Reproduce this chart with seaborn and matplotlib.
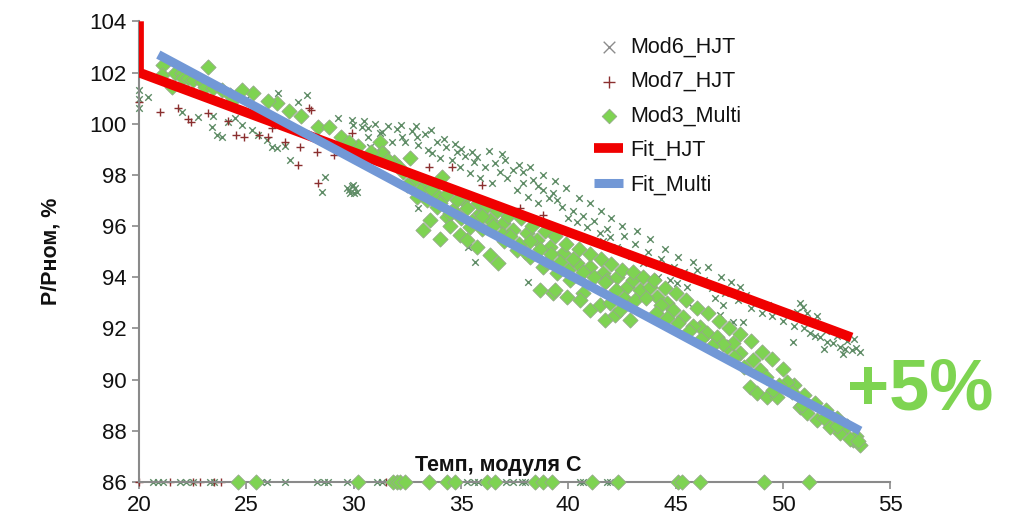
import numpy as np
import pandas as pd
import matplotlib
matplotlib.use("Agg")
import matplotlib.pyplot as plt
import seaborn as sns

# -------------------------------
# Data
# -------------------------------
mod6_x = [20.0, 20.0, 20.0, 20.42, 22.0, 22.75, 23.45, 23.4, 23.87, 23.63, 24.47, 24.15, 25.27, 25.17,
          24.8, 25.55, 25.96, 26.2, 26.43, 26.8, 27.04, 26.48, 27.41, 27.83, 28.67, 28.53, 29.27, 29.93,
          29.97, 30.39, 30.67, 30.67, 31.23, 30.76,
          29.7, 29.85, 30.05, 29.95, 29.8, 30.15, 29.9, 30.0,
          31.32, 32.26, 32.4, 32.95, 33.0, 33.47, 33.65, 34.03, 34.59, 34.96, 35.75, 36.59, 37.05, 35.42,
          35.89, 36.45, 37.15, 37.89, 38.36, 37.61, 38.13, 38.83, 39.29, 39.48, 38.59, 39.99, 40.41, 40.88,
          41.48, 41.95,
          33.0, 35.33, 35.66, 38.13,
          46.0, 45.54, 45.07, 45.58, 46.84, 47.21, 47.07, 47.68, 48.15, 48.0, 50.47, 50.8, 50.94, 50.66,
          51.13, 51.27, 51.73, 52.34, 52.67, 53.22, 52.06, 51.5,
          41.6, 42.3, 42.9, 44.18, 44.74, 43.49, 42.27,
          30.5, 31.0, 31.6, 32.0, 32.7, 33.3, 33.9, 34.3, 34.8, 35.2, 35.6, 36.1, 36.8, 37.4, 37.9, 38.6,
          39.1, 39.7, 40.2, 40.7, 41.2, 41.8, 42.6, 43.1, 43.7, 44.3, 44.9, 45.4, 46.3, 46.7, 47.3, 47.9,
          48.5, 49.0, 49.5, 50.0, 50.5, 51.0, 51.5, 52.0, 52.5, 53.0, 53.4, 52.8, 51.9,
          31.8, 32.2, 32.9, 33.6, 34.2, 34.7, 35.0, 35.5, 36.3, 36.9, 37.7, 38.2, 38.8, 39.4, 39.9, 40.5,
          41.0, 41.5, 42.0, 42.5, 43.2, 43.8, 44.5, 45.1, 45.8, 46.5, 47.1, 47.6, 48.3, 48.9, 49.3, 50.2,
          52.3, 52.9, 51.6, 53.6, 53.3,
          20.65, 20.9, 21.1, 21.9, 22.2, 22.5, 23.3, 23.5, 25.7, 25.96, 26.8, 28.3, 28.6, 28.8, 29.7, 31.1,
          31.3, 35.3, 35.6, 35.8, 37.1, 37.4, 37.85, 38.0, 40.55, 40.7, 41.8, 41.95]
mod6_y = [101.3, 100.95, 100.6, 101.03, 100.45, 100.25, 100.29, 99.86, 99.47, 99.55, 100.21, 100.05, 99.74, 101.11,
          99.94, 99.55, 99.35, 99.08, 99.04, 99.12, 98.57, 101.19, 100.84, 101.11, 97.91, 97.32, 100.21, 100.13,
          99.94, 99.86, 99.82, 99.47, 99.63, 99.08,
          97.5, 97.3, 97.5, 97.62, 97.42, 97.35, 97.55, 97.28,
          99.66, 99.47, 99.27, 99.47, 99.16, 98.96, 98.84, 98.65, 98.57, 98.3, 98.69, 98.45, 98.57, 98.06,
          97.87, 97.67, 97.87, 98.1, 97.79, 97.4, 97.13, 97.4, 97.28, 97.0, 96.89, 96.3, 96.15, 95.95,
          95.72, 95.56,
          96.7, 95.17, 94.59, 93.8,
          94.27, 93.61, 93.77, 92.98, 93.18, 92.91, 92.52, 92.24, 92.24, 93.61, 91.46, 93.0, 92.85, 92.65,
          92.6, 91.81, 91.66, 91.42, 91.27, 91.15, 91.46, 91.7,
          95.4, 95.1, 94.85, 94.0, 93.88, 94.55, 95.2,
          100.1, 100.0, 99.9, 99.8, 99.7, 99.6, 99.3, 99.1, 98.9, 98.75, 98.5, 98.3, 98.1, 98.2, 97.7, 97.55,
          97.1, 96.75, 96.6, 96.4, 96.2, 95.9, 95.6, 95.3, 95.0, 94.7, 94.4, 94.2, 93.9, 93.6, 93.4, 93.1,
          92.8, 92.6, 92.5, 92.3, 92.1, 92.0, 92.25, 91.9, 91.7, 91.5, 91.25, 91.0, 91.2,
          99.3, 99.95, 99.9, 99.75, 99.4, 99.2, 99.0, 98.9, 98.95, 98.8, 98.4, 98.3, 98.0, 97.75, 97.5, 97.1,
          96.9, 96.6, 96.3, 96.0, 95.8, 95.5, 95.1, 94.8, 94.6, 94.4, 94.0, 93.8, 93.3, 93.0, 92.9, 92.6,
          91.95, 91.2, 92.5, 91.1, 91.6,
          86, 86, 86, 86, 86, 86, 86, 86, 86, 86, 86, 86, 86, 86, 86, 86,
          86, 86, 86, 86, 86, 86, 86, 86, 86, 86, 86, 86]

mod7_x = [20.0, 21.0, 21.8, 22.3, 22.4, 23.2, 24.15, 24.5, 24.9, 25.6, 26.0, 26.8, 27.5, 28.3, 27.4, 28.35,
          27.9, 29.1, 29.93, 26.2, 28.0, 34.6, 37.75, 38.8, 32.6, 33.5, 31.0, 36.0,
          20.0, 21.45, 22.5, 22.85, 23.5, 23.8, 31.5]
mod7_y = [100.84, 100.45, 100.6, 100.2, 100.05, 100.4, 100.1, 99.55, 99.47, 99.55, 99.47, 99.27, 99.08, 98.88,
          98.38, 97.67, 100.6, 98.77, 99.63, 99.82, 100.52, 98.3, 96.7, 96.42, 97.8, 98.3, 98.9, 97.6,
          86, 86, 86, 86, 86, 86, 86]

mod3_x = [21.12, 21.07, 21.68, 22.0, 22.05, 22.28, 22.52, 22.94, 23.22, 23.08, 23.45, 23.87, 24.24, 24.38, 21.54,
          26.43, 27.55, 28.34, 28.85, 29.41, 30.21, 31.32,
          31.23, 31.32, 32.63, 34.12, 33.23, 34.03, 33.56, 34.35, 34.96, 35.42, 36.36, 36.73, 35.28, 35.75,
          32.95, 33.42, 33.89, 34.63, 35.1, 35.89, 36.36, 36.96, 37.43, 38.08, 38.55, 39.15, 39.76, 40.41,
          41.02, 41.62, 37.61, 38.22, 38.83, 39.48, 40.08, 38.69, 39.29, 39.94, 40.69,
          39.39, 40.55, 41.02, 41.72, 42.18, 41.48,
          41.81, 42.27, 42.74, 43.02, 43.35, 43.81, 44.14, 44.6, 44.88, 41.95, 42.41, 42.88, 45.35, 46.14,
          46.47, 46.93, 47.4, 47.68, 48.0, 48.61, 48.94, 48.47, 48.8, 49.26, 49.73, 49.54, 50.8, 51.13,
          51.59, 52.2, 52.67, 53.27, 53.6,
          30.8, 31.9, 32.3, 32.8, 33.3, 33.8, 34.3, 34.8, 35.3, 35.8, 36.2, 36.7, 37.2, 37.8, 38.3, 38.9,
          39.4, 39.9, 40.5, 41.0, 41.5, 42.0, 42.5, 43.0, 43.5, 44.0, 44.5, 45.0, 45.5, 46.0, 46.5, 47.0,
          47.5, 48.0, 48.5, 49.0, 49.5, 50.0, 50.5, 51.0, 51.5, 52.0, 52.5, 53.0, 53.4, 50.2, 47.2, 45.8,
          44.3, 36.0, 37.0, 38.0, 39.0, 40.0, 34.5, 26.0, 25.3, 24.8, 27.0, 29.8, 30.4,
          31.6, 32.1, 32.5, 33.1, 33.6, 34.0, 34.5, 35.0, 35.5, 36.0, 36.5, 36.9, 37.3, 37.7, 38.2, 38.7,
          39.2, 39.6, 40.2, 40.7, 41.2, 41.7, 42.2, 42.6, 43.1, 43.6, 44.1, 44.6, 45.1, 45.6, 46.2, 46.7,
          47.7, 48.2, 49.2, 49.8, 50.4, 50.9, 51.9, 52.5, 53.1, 53.5,
          24.6, 25.45, 30.2, 31.85, 32.0, 32.15, 32.4, 33.5, 34.35, 34.7, 36.2, 36.6, 38.45, 38.8, 39.25,
          41.1, 42.3, 45.1, 45.3, 46.14, 49.1, 51.2]
mod3_y = [102.28, 101.89, 101.97, 101.97, 101.77, 101.77, 101.7, 101.62, 102.2, 101.42, 101.38, 101.3, 101.11, 100.91, 101.42,
          100.8, 100.29, 99.86, 99.86, 99.47, 99.12, 98.88,
          99.27, 98.84, 98.65, 97.91, 95.84, 95.48, 96.23, 96.34, 95.64, 95.95, 94.86, 94.55, 95.45, 95.17,
          97.13, 97.0, 96.73, 96.62, 97.0, 96.5, 96.23, 96.11, 95.84, 95.72, 95.45, 95.17, 94.94, 94.55,
          94.39, 94.16, 95.05, 94.78, 94.39, 94.16, 93.88, 93.49, 93.38, 93.22, 93.38,
          93.49, 93.1, 92.71, 92.32, 92.52, 92.91,
          93.88, 94.0, 93.61, 93.88, 93.49, 93.61, 93.22, 92.98, 92.71, 92.98, 92.71, 92.32, 92.44, 92.05,
          91.81, 91.66, 91.27, 91.42, 91.03, 90.76, 90.37, 89.7, 89.47, 89.31, 89.31, 89.59, 88.92, 88.69,
          88.41, 88.14, 87.91, 87.64, 87.44,
          98.9, 98.5, 98.1, 97.8, 97.6, 97.3, 97.2, 97.0, 96.7, 96.9, 96.8, 96.6, 96.4, 96.3, 96.0, 95.8,
          95.6, 95.3, 95.1, 94.9, 94.7, 94.5, 94.3, 94.2, 94.0, 93.9, 93.6, 93.4, 93.1, 92.8, 92.6, 92.3,
          92.0, 91.8, 91.5, 91.1, 90.8, 90.4, 89.8, 89.4, 89.1, 88.8, 88.5, 88.2, 87.8, 89.9, 91.4, 92.1,
          92.9, 95.9, 95.4, 95.0, 94.6, 94.3, 96.0, 100.9, 101.2, 101.3, 100.5, 99.3, 98.6,
          98.6, 98.3, 97.6, 97.4, 97.45, 96.9, 96.5, 96.3, 96.2, 96.4, 96.0, 95.7, 95.6, 95.3, 95.4, 95.1,
          94.9, 94.6, 94.7, 94.2, 94.0, 93.8, 93.5, 93.2, 93.1, 93.2, 92.6, 92.4, 92.2, 91.9, 91.6, 91.3,
          90.9, 90.5, 90.1, 89.8, 89.5, 89.0, 88.5, 88.2, 87.7, 87.6,
          86, 86, 86, 86, 86, 86, 86, 86, 86, 86, 86, 86, 86, 86, 86,
          86, 86, 86, 86, 86, 86, 86]

fit_hjt_x = [20.0, 20.0, 53.2]
fit_hjt_y = [104.0, 102.0, 91.65]
fit_multi_x = [20.9, 53.6]
fit_multi_y = [102.7, 88.0]

x_ticks = [20, 25, 30, 35, 40, 45, 50, 55]
y_ticks = [86, 88, 90, 92, 94, 96, 98, 100, 102, 104]

sns.set_theme(style="white")
plt.rcParams['font.family'] = ['Liberation Sans', 'DejaVu Sans']
plt.rcParams['text.color'] = '#111111'
plt.rcParams['axes.labelcolor'] = '#111111'
plt.rcParams['xtick.labelcolor'] = '#111111'
plt.rcParams['ytick.labelcolor'] = '#111111'

fig = plt.figure(figsize=(10.32, 5.26), dpi=100)
ax = fig.add_axes([0.1347, 0.0835, 0.728, 0.876])

grey = "#8a8a8a"

sns.scatterplot(x=mod6_x, y=mod6_y, ax=ax, marker="x", color="#5f8c66", s=22,
                linewidth=1.0, label="Mod6_HJT", clip_on=False, zorder=2)
sns.scatterplot(x=mod7_x, y=mod7_y, ax=ax, marker="+", color="#8b2f2f", s=30,
                linewidth=1.0, label="Mod7_HJT", clip_on=False, zorder=2)
sns.scatterplot(x=mod3_x, y=mod3_y, ax=ax, marker="D", color="#7ed352", s=60,
                edgecolor="#95a98a", linewidth=0.6, label="Mod3_Multi", clip_on=False, zorder=3)

sns.lineplot(x=fit_hjt_x, y=fit_hjt_y, ax=ax, color="#f00000", linewidth=7, sort=False,
             estimator=None, label="Fit_HJT", solid_capstyle="butt", zorder=4)
sns.lineplot(x=fit_multi_x, y=fit_multi_y, ax=ax, color="#7298d6", linewidth=6.5, sort=False,
             estimator=None, label="Fit_Multi", solid_capstyle="butt", zorder=5)

ax.set_xlim(20, 55)
ax.set_ylim(86, 104)
ax.set_xticks(x_ticks)
ax.set_yticks(y_ticks)
ax.tick_params(axis="both", direction="out", length=5, width=1.2, color=grey,
               labelsize=16, pad=4, bottom=True, left=True)

for side in ["top", "right"]:
    ax.spines[side].set_visible(False)
for side in ["left", "bottom"]:
    ax.spines[side].set_color(grey)
    ax.spines[side].set_linewidth(1.5)

ax.set_xlabel("Темп, модуля С", fontsize=15.5, fontweight="bold")
ax.xaxis.set_label_coords(0.478, 0.058)
ax.set_ylabel("P/Pном, %", fontsize=15.5, fontweight="bold")
ax.yaxis.set_label_coords(-0.103, 0.5)

leg = ax.legend(loc="upper left", bbox_to_anchor=(0.576, 0.93), bbox_transform=fig.transFigure,
                frameon=False, fontsize=15.5, borderpad=0, borderaxespad=0, labelspacing=0.62,
                handlelength=1.35, handletextpad=0.3)
# legend markers: crosses larger and grey, as in the original
handles = leg.legend_handles
handles[0].set_sizes([70])
handles[0].set_color("#8c8c8c")
handles[1].set_sizes([70])
handles[2].set_sizes([55])

fig.text(0.892, 0.258, "+5%", fontsize=52, fontweight="bold", color="#7ed451",
         ha="center", va="center")

fig.savefig("out.png", dpi=100)
